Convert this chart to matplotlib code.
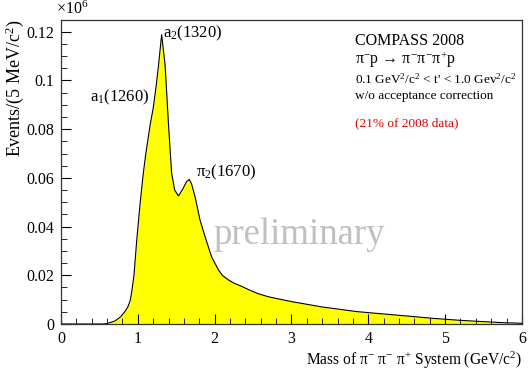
import matplotlib
matplotlib.use("Agg")
import matplotlib.pyplot as plt
from matplotlib.ticker import MultipleLocator, FuncFormatter

plt.rcParams["font.family"] = ["Liberation Serif", "DejaVu Serif"]
plt.rcParams["mathtext.fontset"] = "custom"
plt.rcParams["mathtext.rm"] = "Liberation Serif"
plt.rcParams["mathtext.it"] = "Liberation Serif:italic"

# 3-pion invariant mass spectrum (GeV/c^2) vs events per 5 MeV/c^2 (x 1e6)
mass = [0.0, 0.55, 0.60, 0.70, 0.77, 0.83, 0.87, 0.90, 0.92, 0.95, 0.985, 1.03,
        1.07, 1.10, 1.16, 1.20, 1.24, 1.27, 1.31, 1.355, 1.40, 1.44, 1.48,
        1.53, 1.59, 1.635, 1.67, 1.70, 1.745, 1.81, 1.875, 1.96, 2.05, 2.10,
        2.18, 2.25, 2.35, 2.45, 2.57, 2.70, 2.80, 3.00, 3.40, 3.85, 4.10, 4.50,
        4.85, 5.20, 5.72, 6.00]
events = [0.0, 0.0, 0.0002, 0.0012, 0.0028, 0.0050, 0.0070, 0.0095, 0.0130,
          0.0200, 0.0340, 0.0495, 0.0615, 0.0690, 0.0817, 0.0886, 0.0980,
          0.1064, 0.1188, 0.1064, 0.0817, 0.0620, 0.0550, 0.0526, 0.0557,
          0.0585, 0.0594, 0.0575, 0.0523, 0.0427, 0.0359, 0.0276, 0.0222,
          0.0200, 0.0181, 0.0168, 0.0155, 0.0140, 0.0124, 0.0112, 0.0105,
          0.0092, 0.0070, 0.0051, 0.0044, 0.0033, 0.0023, 0.0015, 0.0006,
          0.0003]

fig = plt.figure(figsize=(5.28, 3.70), dpi=100)
ax = fig.add_axes([0.1155, 0.1243, 0.873, 0.8227])

ax.fill_between(mass, events, color="#ffff00", lw=0)
ax.plot(mass, events, color="black", lw=0.8)

ax.set_xlim(0, 6)
ax.set_ylim(0, 0.125)
ax.xaxis.set_major_locator(MultipleLocator(1))
ax.xaxis.set_minor_locator(MultipleLocator(0.2))
ax.yaxis.set_major_locator(MultipleLocator(0.02))
ax.yaxis.set_minor_locator(MultipleLocator(0.005))
ax.yaxis.set_major_formatter(FuncFormatter(lambda v, p: f"{v:g}"))
ax.tick_params(which="both", direction="in", top=False, right=False, labelsize=11.5)
ax.tick_params(which="major", length=7, pad=5)
ax.tick_params(which="minor", length=4)
for s in ax.spines.values():
    s.set_color("#333333")
    s.set_linewidth(0.9)

ax.set_xlabel("Mass of π$^{-}$ π$^{-}$ π$^{+}$ System (GeV/c$^{2}$)", fontsize=11.2,
              ha="right", x=1.0, labelpad=2)
ax.set_ylabel("Events/(5 MeV/c$^{2}$)", fontsize=13, ha="right", y=1.0, labelpad=0)
ax.text(-0.01, 1.005, "×10$^{6}$", transform=ax.transAxes, fontsize=11.5,
        ha="left", va="bottom")

# resonance labels
ax.text(1.33, 0.1195, "a$_{2}$(1320)", fontsize=12, va="center")
ax.text(0.38, 0.0932, "a$_{1}$(1260)", fontsize=12, va="center")
ax.text(1.76, 0.0624, "π$_{2}$(1670)", fontsize=12, va="center")
ax.text(3.1, 0.0366, "preliminary", fontsize=26.5, color="#c0c0c0",
        ha="center", va="center")

# info box
tx = 0.637
ax.text(tx, 0.93, "COMPASS 2008", transform=ax.transAxes, fontsize=11.5, va="center")
ax.text(tx, 0.868, "π$^{-}$p → π$^{-}$π$^{-}$π$^{+}$p", transform=ax.transAxes,
        fontsize=11.5, va="center")
ax.text(tx, 0.805, "0.1 GeV$^{2}$/c$^{2}$ < t' < 1.0 Gev$^{2}$/c$^{2}$",
        transform=ax.transAxes, fontsize=9.5, va="center")
ax.text(tx, 0.749, "w/o acceptance correction", transform=ax.transAxes,
        fontsize=9.5, va="center")
ax.text(tx, 0.66, "(21% of 2008 data)", transform=ax.transAxes, fontsize=9.5,
        color="#e00000", va="center")

fig.savefig("out.png", dpi=100)
